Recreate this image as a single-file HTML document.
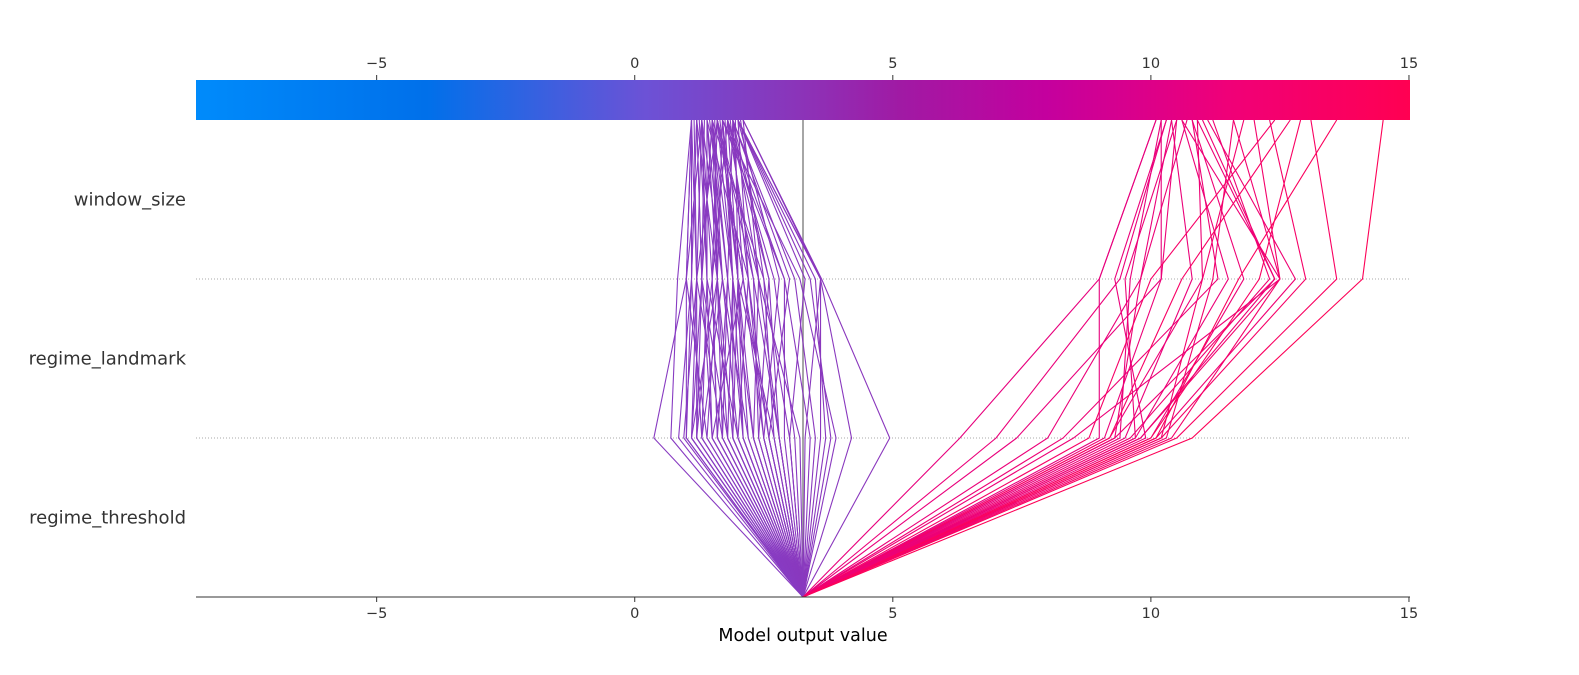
<!DOCTYPE html>
<html><head><meta charset="utf-8">
<style>
body{margin:0;background:#fff;}
svg{display:block;font-family:"DejaVu Sans","Liberation Sans",sans-serif;}
</style></head>
<body>
<svg id="chart" width="1579" height="675">
<defs>
<linearGradient id="cbar" x1="0" x2="1" y1="0" y2="0">
<stop offset="0" stop-color="#008bfb"/>
<stop offset="0.19" stop-color="#0070ea"/>
<stop offset="0.37" stop-color="#6c52d6"/>
<stop offset="0.5" stop-color="#8c33b8"/>
<stop offset="0.58" stop-color="#a01aa4"/>
<stop offset="0.7" stop-color="#c4009e"/>
<stop offset="0.85" stop-color="#f00078"/>
<stop offset="1" stop-color="#ff0052"/>
</linearGradient>
</defs>
<g id="grid"></g>
<g id="lines"></g>
<g id="axes"></g>
</svg>
<script>
const features = ["window_size","regime_landmark","regime_threshold"];
const baseValue = 3.26;
const xTicks = [-5,0,5,10,15];
const purpleS1 = [0.37,0.7,0.85,0.95,1.0,1.1,1.2,1.3,1.5,1.6,1.8,2.0,2.1,2.3,2.5,2.6,2.8,3.0,3.1,3.3,3.5,3.6,3.8,3.9,4.2,4.94,1.4,1.7,1.9,2.2,2.4,2.7,1.2,1.5,2.0,2.9,3.2,3.4,1.1,1.8,2.3,2.6,1.6,3.7,1.3,1.9,2.5,2.1,1.7,2.8,1.0,1.2,1.4,1.6,1.8,2.0,2.2,2.4,2.6,2.8,1.1,1.3,1.5,1.7,1.9,2.1,2.3,2.5,2.7,3.0];
const purpleS2 = [1.0,0.83,1.1,1.2,1.0,1.3,1.5,1.1,1.4,1.8,1.6,2.2,1.9,2.4,2.8,3.0,2.3,3.3,2.7,3.6,3.1,3.6,3.4,3.2,3.6,3.62,1.0,1.2,2.0,1.7,2.6,2.5,1.2,2.1,1.4,2.9,2.4,2.9,1.6,1.3,2.0,2.2,1.5,3.5,1.7,1.9,2.1,1.8,1.6,2.6,1.1,1.3,1.6,1.5,1.9,1.7,2.0,2.3,2.1,2.4,1.2,1.4,1.3,1.8,1.6,2.0,1.9,2.2,2.0,2.5];
const purpleS3 = [1.3,1.1,1.2,1.6,1.1,1.5,1.8,1.2,1.4,1.9,1.7,2.0,1.5,2.1,2.0,1.9,1.6,2.0,1.8,2.0,1.9,2.1,2.0,1.7,2.0,2.1,1.1,1.3,1.7,1.4,1.9,1.5,1.1,1.6,1.3,1.8,1.6,1.7,1.5,1.2,1.8,1.4,1.6,2.0,1.3,1.7,1.9,1.5,1.2,1.8,1.1,1.2,1.4,1.3,1.6,1.5,1.7,1.8,1.6,1.9,1.15,1.25,1.35,1.45,1.55,1.65,1.75,1.85,1.95,2.05];
const pinkS1 = [6.3,7.0,7.4,8.0,8.3,8.5,9.0,9.1,9.2,9.3,9.4,9.5,9.6,9.7,9.8,9.9,10.0,10.1,10.2,10.3,10.4,10.5,10.8,10.0,9.2,9.7,9.3,10.2,8.8,9.8,10.1];
const pinkS2 = [9.0,9.4,10.2,9.8,11.3,12.5,9.0,10.2,11.0,12.4,9.6,10.8,12.3,11.5,12.5,9.3,11.8,12.8,13.0,11.2,12.5,13.6,14.1,12.1,10.6,9.5,9.8,11.0,10.0,12.4,11.7];
const pinkS3 = [10.1,10.3,10.2,10.4,10.8,10.6,10.1,10.5,10.9,11.0,10.2,10.4,11.2,10.6,11.6,10.3,10.8,11.1,12.3,11.6,12.0,13.1,14.5,12.9,12.7,10.5,10.7,11.8,12.4,10.9,13.6];

const NS="http://www.w3.org/2000/svg";
const svg=document.getElementById('chart');
const X0=196,X1=1410,V0=-8.5,V1=15.02;
const x=v=>X0+(v-V0)/(V1-V0)*(X1-X0);
const rowY=[120,279,438,597];
function mk(tag,attrs,parent){const e=document.createElementNS(NS,tag);for(const k in attrs)e.setAttribute(k,attrs[k]);(parent||svg).appendChild(e);return e;}
const stops=[[0,[0,139,251]],[0.19,[0,112,234]],[0.3,[100,80,214]],[0.4,[135,60,195]],[0.5,[140,51,184]],[0.58,[160,26,164]],[0.7,[196,0,158]],[0.8,[235,0,122]],[0.9,[248,0,100]],[1,[255,0,82]]];
function col(v){let t=(v-V0)/(V1-V0);t=Math.max(0,Math.min(1,t));for(let i=1;i<stops.length;i++){if(t<=stops[i][0]){const a=stops[i-1],b=stops[i];const f=(t-a[0])/(b[0]-a[0]);return 'rgb('+a[1].map((c,j)=>Math.round(c+(b[1][j]-c)*f)).join(',')+')';}}return 'rgb(255,0,82)';}

const grid=document.getElementById('grid');
[1,2].forEach(i=>{const l=mk('line',{x1:X0,x2:X1,y1:rowY[i],y2:rowY[i],stroke:'#aaa','stroke-width':1,'stroke-dasharray':'1,2'},grid);

});
const bl=mk('line',{x1:x(baseValue),x2:x(baseValue),y1:120,y2:597,stroke:'#888','stroke-width':1.5},grid);



const lg=document.getElementById('lines');
function draw(s1,s2,s3,name){for(let i=0;i<s1.length;i++){
const pts=[[x(baseValue),597],[x(s1[i]),438],[x(s2[i]),279],[x(s3[i]),120]];
const p=mk('polyline',{points:pts.map(q=>q.join(',')).join(' '),fill:'none',stroke:col(s3[i]),'stroke-width':1.1},lg);

}}
draw(purpleS1,purpleS2,purpleS3,'decision-line-low');
draw(pinkS1,pinkS2,pinkS3,'decision-line-high');

const ax=document.getElementById('axes');
const cb=mk('rect',{x:X0,y:80,width:X1-X0,height:40,fill:'url(#cbar)'},ax);


const al=mk('line',{x1:X0,x2:X1,y1:597,y2:597,stroke:'#333','stroke-width':1},ax);


xTicks.forEach(t=>{
mk('line',{x1:x(t),x2:x(t),y1:597,y2:602,stroke:'#333'},ax);
mk('line',{x1:x(t),x2:x(t),y1:75,y2:80,stroke:'#333'},ax);
const lab=t<0?'\u2212'+(-t):''+t;
const a=mk('text',{x:x(t),y:618,'text-anchor':'middle','font-size':14.5,fill:'#333'},ax);a.textContent=lab;


const b=mk('text',{x:x(t),y:68,'text-anchor':'middle','font-size':14.5,fill:'#333'},ax);b.textContent=lab;

});
features.forEach((f,i)=>{const t=mk('text',{x:186,y:(rowY[i]+rowY[i+1])/2+6,'text-anchor':'end','font-size':18,fill:'#333'},ax);t.textContent=f;

});
const xt=mk('text',{x:803,y:641,'text-anchor':'middle','font-size':17.5,fill:'#000'},ax);xt.textContent='Model output value';


</script>
</body></html>
